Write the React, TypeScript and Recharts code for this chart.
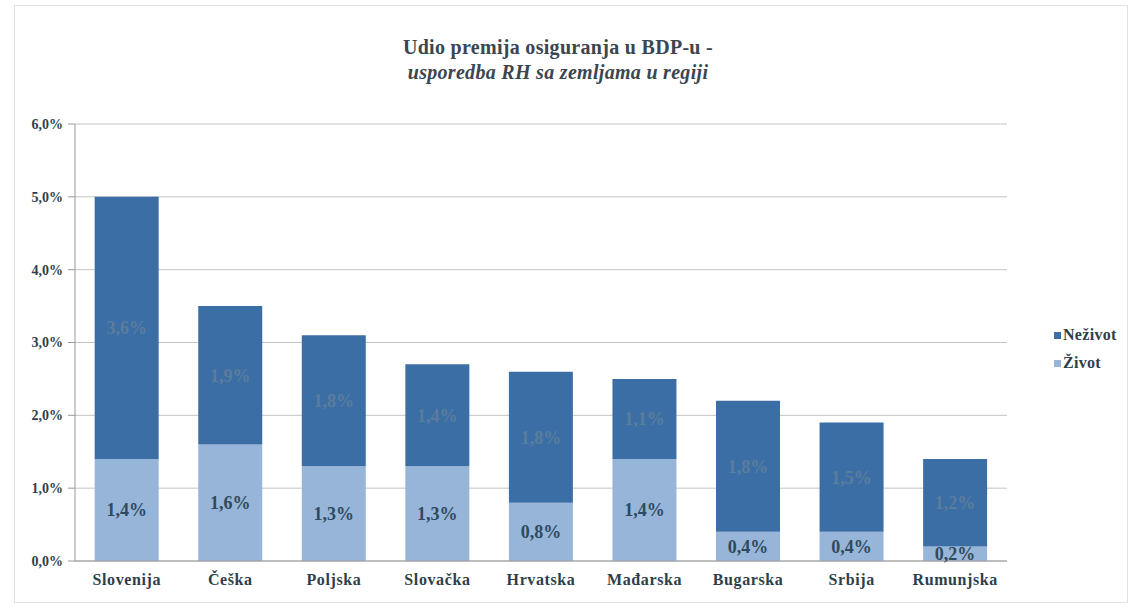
import React from "react";
import { BarChart, Bar, XAxis, YAxis, CartesianGrid, LabelList, Legend } from "recharts";

const countries = ["Slovenija", "Češka", "Poljska", "Slovačka", "Hrvatska", "Mađarska", "Bugarska", "Srbija", "Rumunjska"];
const zivot = [1.4, 1.6, 1.3, 1.3, 0.8, 1.4, 0.4, 0.4, 0.2];
const nezivot = [3.6, 1.9, 1.8, 1.4, 1.8, 1.1, 1.8, 1.5, 1.2];
const yTicks = [0, 1, 2, 3, 4, 5, 6];
const legendOrder = ["Neživot", "Život"];

const data = countries.map((c, i) => ({ name: c, zivot: zivot[i], nezivot: nezivot[i] }));

const FONT = "'Times New Roman', 'Liberation Serif', 'DejaVu Serif', serif";
const DARK = "#3c6ea6";
const LIGHT = "#97b5d9";

const fmt = (v: number) => v.toFixed(1).replace(".", ",") + "%";

const LegendContent = (props: any) => {
  const items = [...(props.payload || [])].sort(
    (a: any, b: any) => legendOrder.indexOf(a.value) - legendOrder.indexOf(b.value)
  );
  return (
    <div style={{ fontFamily: FONT, fontWeight: "bold", fontSize: 16, color: "#2e3f4c", letterSpacing: 0.3 }}>
      {items.map((p: any) => (
        <div key={p.value} style={{ display: "flex", alignItems: "center", height: 28 }}>
          <span style={{ width: 7, height: 7, background: p.color, display: "inline-block", marginRight: 2 }} />
          <span>{p.value}</span>
        </div>
      ))}
    </div>
  );
};

export default function App() {
  return (
    <div style={{ position: "absolute", left: 0, top: 0, width: 1135, height: 607, background: "#fff" }}>
      <div style={{ position: "absolute", left: 14, top: 5, width: 1114, height: 598, border: "1px solid #e2e2e2", boxSizing: "border-box" }} />
      <div style={{ position: "absolute", left: 0, width: 1116, top: 35, textAlign: "center", fontFamily: FONT, fontWeight: "bold", fontSize: 20, color: "#3a4650", lineHeight: "25px", letterSpacing: 0.3 }}>
        <div>Udio premija osiguranja u BDP-u -</div>
        <div style={{ fontStyle: "italic" }}>usporedba RH sa zemljama u regiji</div>
      </div>
      <div style={{ position: "absolute", left: 0, top: 0 }}>
        <BarChart width={1135} height={607} data={data} margin={{ top: 124, right: 128, bottom: 16, left: 15 }} barCategoryGap="19%">
          <CartesianGrid vertical={false} stroke="#c4c4c4" />
          <XAxis
            dataKey="name"
            height={30}
            axisLine={{ stroke: "#9a9a9a" }}
            tickLine={false}
            tick={{ fontFamily: FONT, fontWeight: "bold", fontSize: 16, fill: "#2e3f4c", letterSpacing: 0.6 }}
            tickMargin={7}
            interval={0}
          />
          <YAxis
            width={60}
            domain={[0, 6]}
            ticks={yTicks}
            axisLine={{ stroke: "#9a9a9a" }}
            tickLine={{ stroke: "#9a9a9a" }}
            tickSize={7}
            tickMargin={5}
            tickFormatter={fmt}
            tick={{ fontFamily: FONT, fontWeight: "bold", fontSize: 14, fill: "#2e3f4c" }}
          />
          <YAxis yAxisId="r" orientation="right" width={0} domain={[0, 6]} tick={false} tickLine={false} axisLine={{ stroke: "#c4c4c4" }} />
          <Legend
            layout="horizontal"
            align="center"
            verticalAlign="middle"
            content={<LegendContent />}
            wrapperStyle={{ position: "absolute", left: 1054, top: 321, width: 80 }}
          />
          <Bar dataKey="zivot" name="Život" stackId="a" fill={LIGHT} isAnimationActive={false}>
            <LabelList dataKey="zivot" position="center" formatter={fmt} style={{ fontFamily: FONT, fontWeight: "bold", fontSize: 18, fill: "#2e4a5f" }} />
          </Bar>
          <Bar dataKey="nezivot" name="Neživot" stackId="a" fill={DARK} isAnimationActive={false}>
            <LabelList dataKey="nezivot" position="center" formatter={fmt} style={{ fontFamily: FONT, fontWeight: "bold", fontSize: 18, fill: "#5b7d9c" }} />
          </Bar>
        </BarChart>
      </div>
    </div>
  );
}
